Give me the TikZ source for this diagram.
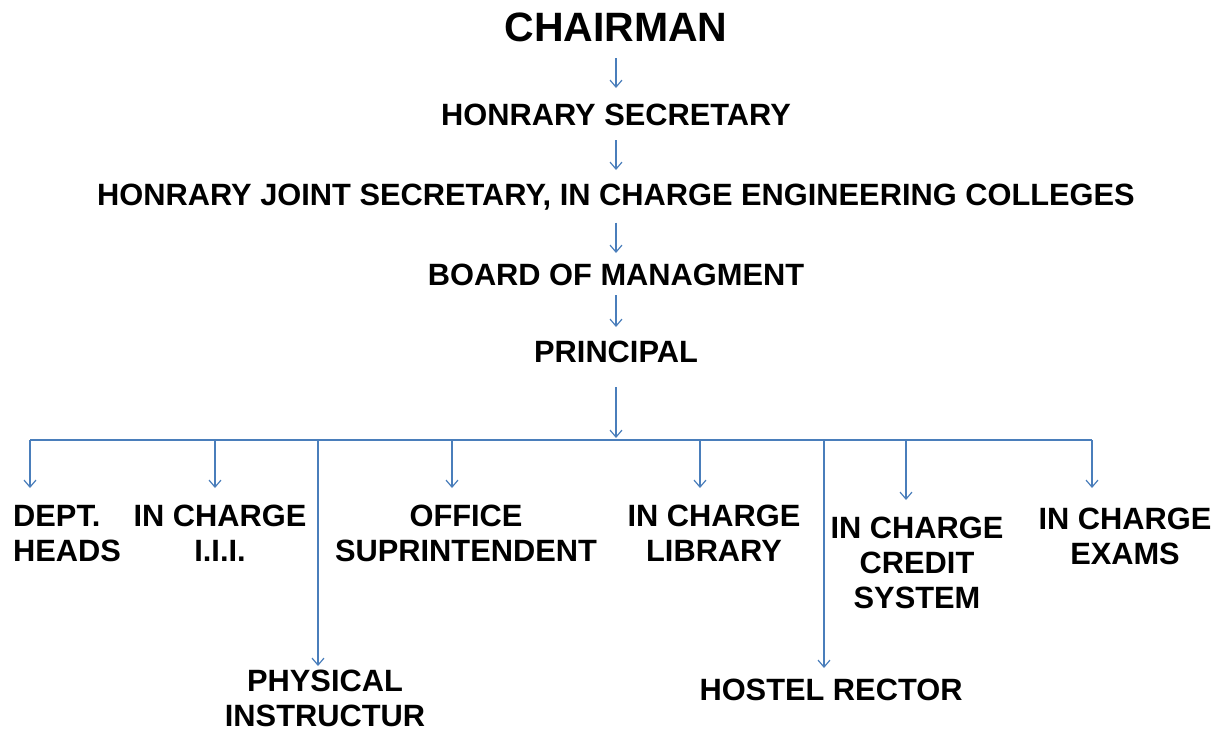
\documentclass[tikz,border=0pt]{standalone}
\usepackage{fontspec}
\setmainfont{Liberation Sans}
\usepackage{xcolor}
\usetikzlibrary{arrows.meta}
\definecolor{linkblue}{RGB}{74,126,187}

\begin{document}
\begin{tikzpicture}[
        x=1pt, y=-1pt,
        title/.style={
            inner sep=0pt,
            anchor=north,
            font=\fontsize{41}{46}\selectfont\bfseries
        },
        post/.style={
            inner sep=0pt,
            anchor=north,
            align=center,
            font=\fontsize{30.8}{35}\selectfont\bfseries
        },
        wire/.style={
            draw=linkblue,
            line width=1.2pt
        },
        arrow/.style={
            wire,
            -{Straight Barb[length=7pt,width=12pt]}
        }
    ]
        \useasboundingbox (0,0) rectangle (1222,731);
        % chain of command
        \node (chair) [title] at (616,13) {CHAIRMAN};
        \node (hsec) [post] at (616,104) {HONRARY SECRETARY};
        \node (jsec) [post] at (616,184) {HONRARY JOINT SECRETARY, IN CHARGE ENGINEERING COLLEGES};
        \node (board) [post] at (616,264) {BOARD OF MANAGMENT};
        \node (prin) [post] at (616,341) {PRINCIPAL};
        \coordinate (bus) at (616,440);
        \draw[arrow, shorten <=16pt, shorten >=16pt] (chair) -- (hsec);
        \draw[arrow, shorten <=14pt, shorten >=14pt] (hsec) -- (jsec);
        \draw[arrow, shorten <=12pt, shorten >=11pt] (jsec) -- (board);
        \draw[arrow, shorten <=9pt, shorten >=14pt] (board) -- (prin);
        \draw[arrow, shorten <=24pt, shorten >=2pt] (prin) -- (bus);
        % staff under the principal
        \node (heads) [post, anchor=north west, align=left] at (13,505) {DEPT.\\HEADS};
        \node (iii) [post] at (220,505) {IN CHARGE\\I.I.I.};
        \node (office) [post] at (466,505) {OFFICE\\SUPRINTENDENT};
        \node (library) [post] at (714,505) {IN CHARGE\\LIBRARY};
        \node (credit) [post] at (917,517) {IN CHARGE\\CREDIT\\SYSTEM};
        \node (exams) [post] at (1125,508) {IN CHARGE\\EXAMS};
        \node (physical) [post] at (325,670) {PHYSICAL\\INSTRUCTUR};
        \node (hostel) [post] at (831,679) {HOSTEL RECTOR};
        \coordinate (headsFork) at (30,440);
        \coordinate (iiiFork) at (215,440);
        \coordinate (physicalFork) at (318,440);
        \coordinate (officeFork) at (452,440);
        \coordinate (libraryFork) at (700,440);
        \coordinate (hostelFork) at (824,440);
        \coordinate (creditFork) at (906,440);
        \coordinate (examsFork) at (1092,440);
        \coordinate (headsEnd) at (30,488);
        \coordinate (iiiEnd) at (215,488);
        \coordinate (physicalEnd) at (318,666);
        \coordinate (officeEnd) at (452,488);
        \coordinate (libraryEnd) at (700,488);
        \coordinate (hostelEnd) at (824,668);
        \coordinate (creditEnd) at (906,500);
        \coordinate (examsEnd) at (1092,488);
        \draw[wire] (headsFork) -- (examsFork);
        \draw[arrow] (headsFork) -- (headsEnd);
        \draw[arrow] (iiiFork) -- (iiiEnd);
        \draw[arrow] (physicalFork) -- (physicalEnd);
        \draw[arrow] (officeFork) -- (officeEnd);
        \draw[arrow] (libraryFork) -- (libraryEnd);
        \draw[arrow] (hostelFork) -- (hostelEnd);
        \draw[arrow] (creditFork) -- (creditEnd);
        \draw[arrow] (examsFork) -- (examsEnd);
    \end{tikzpicture}
\end{document}
